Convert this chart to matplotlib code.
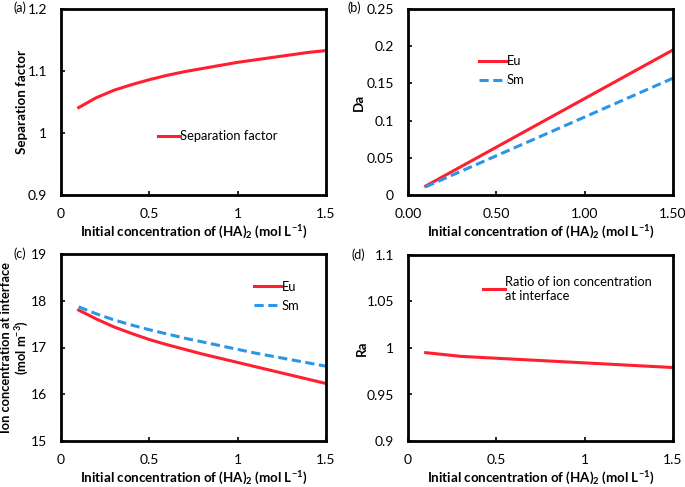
import matplotlib
matplotlib.use("Agg")
import matplotlib.pyplot as plt

FONT = 'Lato'
plt.rcParams['font.family'] = [FONT, 'DejaVu Sans']
plt.rcParams['mathtext.fontset'] = 'custom'
plt.rcParams['mathtext.rm'] = FONT
plt.rcParams['mathtext.it'] = FONT + ':italic'
plt.rcParams['mathtext.bf'] = FONT + ':bold'

x = [0.1, 0.2, 0.3, 0.4, 0.5, 0.6, 0.7, 0.8, 0.9, 1.0, 1.1, 1.2, 1.3, 1.4, 1.5]
sep_factor = [1.041, 1.057, 1.069, 1.078, 1.086, 1.093, 1.099, 1.104, 1.109, 1.114,
              1.118, 1.122, 1.126, 1.130, 1.133]
da_x = [0.1, 1.5]
da_eu = [0.012, 0.195]
da_sm = [0.011, 0.157]
ion_eu = [17.80, 17.61, 17.44, 17.30, 17.17, 17.06, 16.96, 16.86, 16.77, 16.68,
          16.59, 16.50, 16.41, 16.32, 16.23]
ion_sm = [17.87, 17.72, 17.59, 17.48, 17.38, 17.29, 17.20, 17.12, 17.04, 16.96,
          16.88, 16.81, 16.74, 16.67, 16.60]
ra = [0.995, 0.993, 0.991, 0.990, 0.989, 0.988, 0.987, 0.986, 0.985, 0.984,
      0.983, 0.982, 0.981, 0.980, 0.979]

RED = '#FF1F30'
BLUE = '#2A96E8'
W, H = 685, 487
TICK_FS = 10
LAB_FS = 9.6
LEG_FS = 9.3
fig = plt.figure(figsize=(6.85, 4.87), dpi=100)

def add_ax(l, r, t, b):
    return fig.add_axes([l / W, 1 - b / H, (r - l) / W, (b - t) / H])

axa = add_ax(61, 326, 9, 195)
axb = add_ax(408, 673, 9, 195)
axc = add_ax(61, 326, 254, 441)
axd = add_ax(408, 673, 255, 441)

xlabel = r'Initial concentration of (HA)$_\mathbf{2}$ (mol L$^{\mathbf{-1}}$)'

for ax in (axa, axb, axc, axd):
    for s in ax.spines.values():
        s.set_linewidth(2.0)
        s.set_color('black')
    ax.tick_params(direction='in', length=3, width=1.2, labelsize=TICK_FS)
    ax.tick_params(axis='x', pad=9)
    ax.tick_params(axis='y', pad=10)
    ax.set_xlim(0, 1.5)
    ax.set_xticks([0, 0.5, 1.0, 1.5])
    ax.set_xlabel(xlabel, fontsize=LAB_FS, fontweight='bold')
    ax.xaxis.set_label_coords(0.5, -0.155)

# (a)
axa.plot(x, sep_factor, color=RED, lw=2.2, label='Separation factor')
axa.set_ylim(0.9, 1.2)
axa.set_yticks([0.9, 1.0, 1.1, 1.2])
axa.set_yticklabels(['0.9', '1', '1.1', '1.2'])
axa.set_xticklabels(['0', '0.5', '1', '1.5'])
axa.set_ylabel('Separation factor', fontsize=LAB_FS, fontweight='bold')
axa.yaxis.set_label_coords(-0.125, 0.5)
axa.legend(loc='upper left', bbox_to_anchor=(0.345, 0.375), frameon=False, fontsize=LEG_FS,
           handlelength=1.7, handletextpad=0.0, borderaxespad=0)
fig.text(13 / W, 1 - 8 / H, '(a)', fontsize=9, va='center', ha='left')

# (b)
axb.plot(da_x, da_eu, color=RED, lw=2.2, label='Eu')
axb.plot(da_x, da_sm, color=BLUE, lw=2.2, ls=(0, (3, 1.5)), label='Sm')
axb.set_ylim(0, 0.25)
axb.set_yticks([0, 0.05, 0.1, 0.15, 0.2, 0.25])
axb.set_yticklabels(['0', '0.05', '0.1', '0.15', '0.2', '0.25'])
axb.set_xticklabels(['0.00', '0.50', '1.00', '1.50'])
axb.set_ylabel('Da', fontsize=LAB_FS, fontweight='bold')
axb.yaxis.set_label_coords(-0.163, 0.5)
axb.legend(loc='upper left', bbox_to_anchor=(0.25, 0.78), frameon=False, fontsize=LEG_FS,
           handlelength=2.1, handletextpad=0.0, borderaxespad=0, labelspacing=0.55)
fig.text(347 / W, 1 - 8 / H, '(b)', fontsize=9, va='center', ha='left')

# (c)
axc.plot(x, ion_eu, color=RED, lw=2.2, label='Eu')
axc.plot(x, ion_sm, color=BLUE, lw=2.2, ls=(0, (3, 1.5)), label='Sm')
axc.set_ylim(15, 19)
axc.set_yticks([15, 16, 17, 18, 19])
axc.set_xticklabels(['0', '0.5', '1', '1.5'])
axc.set_ylabel('Ion concentration at interface\n(mol m$^{\\mathbf{-3}}$)', fontsize=9.3,
               fontweight='bold', linespacing=1.15)
axc.yaxis.set_label_coords(-0.113, 0.5)
axc.legend(loc='upper left', bbox_to_anchor=(0.71, 0.885), frameon=False, fontsize=LEG_FS,
           handlelength=2.1, handletextpad=0.0, borderaxespad=0, labelspacing=0.55)
fig.text(13 / W, 1 - 254 / H, '(c)', fontsize=9, va='center', ha='left')

# (d)
axd.plot(x, ra, color=RED, lw=2.2, label='Ratio of ion concentration\nat interface')
axd.set_ylim(0.9, 1.1)
axd.set_yticks([0.9, 0.95, 1.0, 1.05, 1.1])
axd.set_yticklabels(['0.9', '0.95', '1', '1.05', '1.1'])
axd.set_xticklabels(['0', '0.5', '1', '1.5'])
axd.set_ylabel('Ra', fontsize=LAB_FS, fontweight='bold')
axd.yaxis.set_label_coords(-0.152, 0.5)
axd.legend(loc='upper left', bbox_to_anchor=(0.265, 0.915), frameon=False, fontsize=LEG_FS,
           handlelength=1.7, handletextpad=0.0, borderaxespad=0)
fig.text(352 / W, 1 - 255 / H, '(d)', fontsize=9, va='center', ha='left')

fig.savefig('out.png', dpi=100)
